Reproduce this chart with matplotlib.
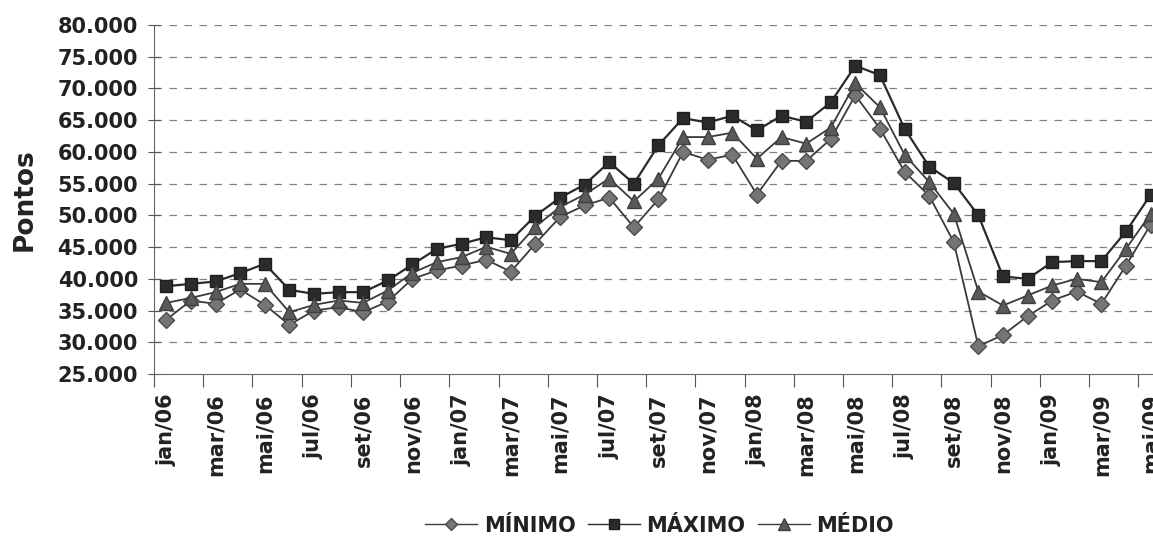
import matplotlib
matplotlib.use('Agg')
import matplotlib.pyplot as plt
from matplotlib.ticker import FuncFormatter, FixedLocator

# months jan/06 .. mai/09
meses = ['jan/06', 'fev/06', 'mar/06', 'abr/06', 'mai/06', 'jun/06', 'jul/06', 'ago/06',
         'set/06', 'out/06', 'nov/06', 'dez/06', 'jan/07', 'fev/07', 'mar/07', 'abr/07',
         'mai/07', 'jun/07', 'jul/07', 'ago/07', 'set/07', 'out/07', 'nov/07', 'dez/07',
         'jan/08', 'fev/08', 'mar/08', 'abr/08', 'mai/08', 'jun/08', 'jul/08', 'ago/08',
         'set/08', 'out/08', 'nov/08', 'dez/08', 'jan/09', 'fev/09', 'mar/09', 'abr/09',
         'mai/09']

minimo = [33580, 36580, 36050, 38320, 35900, 32740, 35000, 35530, 34740, 36420,
          40000, 41320, 42100, 43000, 41130, 45540, 49750, 51570, 52790, 48120,
          52550, 60000, 58760, 59570, 53280, 58600, 58580, 62020, 68930, 63670,
          56880, 53100, 45790, 29370, 31160, 34100, 36580, 38000, 36050, 42100,
          48530]

maximo = [38840, 39210, 39580, 40900, 42370, 38260, 37630, 37900, 37900, 39740,
          42260, 44740, 45520, 46550, 46080, 49950, 52790, 54850, 58390, 55000,
          61060, 65320, 64630, 65700, 63400, 65700, 64750, 67800, 73580, 72100,
          63670, 57690, 55110, 50000, 40370, 40000, 42630, 42790, 42790, 47470,
          53250]

medio = [36210, 37000, 37900, 39210, 39210, 34740, 35900, 36580, 36210, 38160,
         40950, 42630, 43420, 45050, 43930, 48230, 51320, 53280, 55810, 52210,
         55810, 62340, 62340, 63030, 58930, 62340, 61300, 63830, 70790, 67040,
         59570, 55270, 50250, 38000, 35790, 37370, 38950, 40000, 39470, 44740,
         50250]

plt.rcParams['font.family'] = 'DejaVu Sans'
plt.rcParams['font.weight'] = 'bold'

fig = plt.figure(figsize=(11.53, 5.39), dpi=100)
ax = fig.add_axes([0.1336, 0.3061, 0.875, 0.6475])

x = list(range(len(meses)))
line_color = '#3a3a3a'
ax.plot(x, minimo, color=line_color, lw=1.3, marker='D', markersize=8,
        markerfacecolor='#757575', markeredgecolor='#4a4a4a', label='MÍNIMO')
ax.plot(x, maximo, color='#2a2a2a', lw=1.6, marker='s', markersize=9,
        markerfacecolor='#2b2b2b', markeredgecolor='#1e1e1e', label='MÁXIMO')
ax.plot(x, medio, color=line_color, lw=1.3, marker='^', markersize=10,
        markerfacecolor='#5a5a5a', markeredgecolor='#404040', label='MÉDIO')

ax.set_xlim(-0.5, len(meses) - 0.5)
ax.set_ylim(25000, 80000)

# y axis
ax.set_yticks(range(25000, 80001, 5000))
ax.yaxis.set_major_formatter(FuncFormatter(lambda v, p: f'{int(v):,}'.replace(',', '.')))
ax.tick_params(axis='y', direction='inout', length=9, width=0.8, color='#555555',
               labelsize=15, pad=7, labelcolor='#222222')
ax.set_ylabel('Pontos', fontsize=19, fontweight='bold', color='#222222', labelpad=14)

for v in range(30000, 80001, 5000):
    ax.axhline(v, color='#808080', lw=0.9, ls=(0, (6, 6)), zorder=0)

# x axis: labels every 2 months, tick marks between categories
ax.xaxis.set_major_locator(FixedLocator(x[::2]))
ax.set_xticklabels(meses[::2], rotation=90)
ax.tick_params(axis='x', which='major', length=0, labelsize=15, pad=14,
               labelcolor='#222222')
ax.xaxis.set_minor_locator(FixedLocator([i - 0.5 for i in x[::2]]))
ax.tick_params(axis='x', which='minor', direction='out', length=9, width=0.8,
               color='#555555')

for s in ['top', 'right']:
    ax.spines[s].set_visible(False)
ax.spines['left'].set_color('#666666')
ax.spines['left'].set_linewidth(0.8)
ax.spines['bottom'].set_color('#666666')
ax.spines['bottom'].set_linewidth(0.8)

leg = fig.legend(loc='center', bbox_to_anchor=(0.572, 0.025), ncol=3, frameon=False,
                 fontsize=15, handlelength=2.5, columnspacing=0.6, handletextpad=0.3,
                 markerscale=0.8)
for t in leg.get_texts():
    t.set_color('#222222')
for h in leg.legend_handles:
    h.set_linewidth(1.0)

fig.savefig('out.png', dpi=100)
